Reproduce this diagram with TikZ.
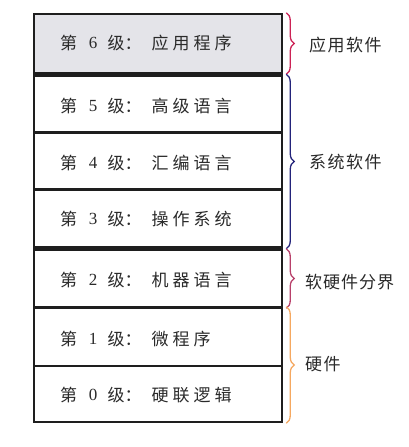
\documentclass[tikz,border=0pt]{standalone}
\usepackage{fontspec}
\newfontfamily\cjk{Noto Sans CJK SC}
\newfontfamily\dig{Liberation Serif}
\usetikzlibrary{decorations.pathreplacing}
\definecolor{edge}{HTML}{1E1E1E}
\definecolor{txt}{HTML}{2A2A2A}
\definecolor{shade}{HTML}{E4E4E9}
\definecolor{bred}{HTML}{CC2255}
\definecolor{bblue}{HTML}{23237A}
\definecolor{bpink}{HTML}{B8406A}
\definecolor{borange}{HTML}{F5A860}
\newcommand{\gp}{\hspace{4pt}}
\tikzset{
  rowbox/.style={draw=edge, line width=2.5pt, minimum width=248pt, inner sep=0pt},
  lab/.style={anchor=west, inner sep=0pt, text=txt, font=\fontsize{17pt}{19pt}\selectfont\cjk},
  num/.style={anchor=center, inner sep=0pt, text=txt, font=\fontsize{17pt}{19pt}\selectfont\dig},
  side/.style={anchor=west, inner sep=0pt, text=txt, font=\fontsize{17pt}{19pt}\selectfont\cjk},
  brc/.style={decorate, decoration={brace, amplitude=8pt}, line width=1.3pt}
}
% #1 name, #2 y, #3 digit, #4 text
\newcommand{\lvl}[4]{%
  \node[lab] (#1a) at (60,#2) {第};
  \node[num] (#1b) at (93,#2) {#3};
  \node[lab] (#1c) at (107.5,#2) {级：};
  \node[lab] (#1d) at (151.5,#2) {#4};
}
\begin{document}
\begin{tikzpicture}[x=1pt,y=-1pt]
\useasboundingbox (0,0) rectangle (409,447);
\fill[white] (0,0) rectangle (409,447);
% rows
\node[rowbox, fill=shade, minimum height=59pt] (r6) at (158,43.5) {};
\node[rowbox, minimum height=57pt] (r5) at (158,104) {};
\node[rowbox, minimum height=57pt] (r4) at (158,161) {};
\node[rowbox, minimum height=58pt] (r3) at (158,218.5) {};
\node[rowbox, minimum height=57pt] (r2) at (158,278.5) {};
\node[rowbox, minimum height=58pt] (r1) at (158,337) {};
\node[rowbox, minimum height=56pt] (r0) at (158,394) {};
% row texts
\lvl{t6}{43}{6}{应\gp 用\gp 程\gp 序}
\lvl{t5}{106}{5}{高\gp 级\gp 语\gp 言}
\lvl{t4}{163}{4}{汇\gp 编\gp 语\gp 言}
\lvl{t3}{219}{3}{操\gp 作\gp 系\gp 统}
\lvl{t2}{280}{2}{机\gp 器\gp 语\gp 言}
\lvl{t1}{339}{1}{微\gp 程\gp 序}
\lvl{t0}{395}{0}{硬\gp 联\gp 逻\gp 辑}
% braces
\coordinate (a1) at ([xshift=3pt]r6.north east);
\coordinate (a2) at ([xshift=3pt]r6.south east);
\coordinate (b1) at ([xshift=3pt]r5.north east);
\coordinate (b2) at ([xshift=3pt]r3.south east);
\coordinate (c1) at ([xshift=3pt]r2.north east);
\coordinate (c2) at ([xshift=3pt]r2.south east);
\coordinate (d1) at ([xshift=3pt]r1.north east);
\coordinate (d2) at ([xshift=3pt]r0.south east);
\draw[brc, bred] (a1) -- (a2);
\draw[brc, bblue] (b1) -- (b2);
\draw[brc, bpink] (c1) -- (c2);
\draw[brc, borange] (d1) -- (d2);
% side labels
\node[side] (s1) at (309,45) {应\hspace{1.5pt}用\hspace{1.5pt}软\hspace{1.5pt}件};
\node[side] (s2) at (309,162) {系\hspace{1.5pt}统\hspace{1.5pt}软\hspace{1.5pt}件};
\node[side] (s3) at (305,282) {软\hspace{1pt}硬\hspace{1pt}件\hspace{1pt}分\hspace{1pt}界};
\node[side] (s4) at (305,364) {硬\hspace{1.5pt}件};
\end{tikzpicture}
\end{document}
